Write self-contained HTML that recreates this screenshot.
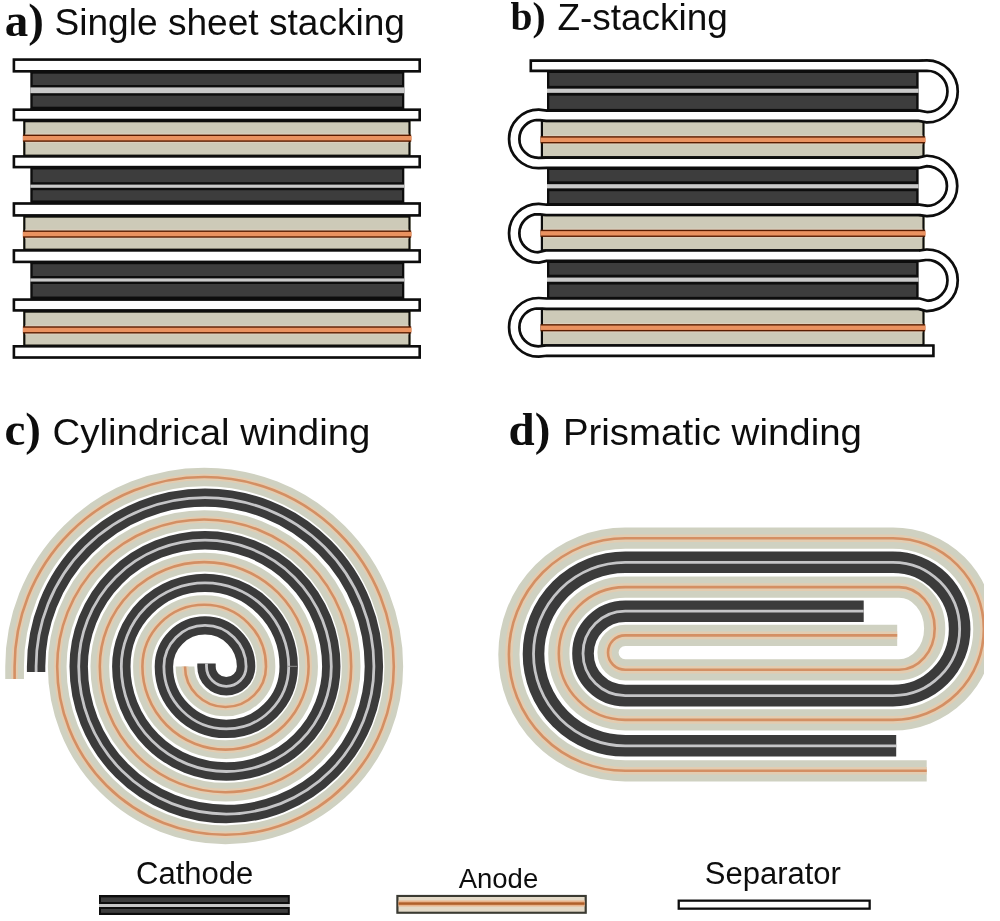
<!DOCTYPE html>
<html><head><meta charset="utf-8"><style>
html,body{margin:0;padding:0;background:#fff;overflow:hidden;}
svg{display:block;}
</style></head><body>
<svg width="1000" height="921" viewBox="0 0 1000 921">
<defs><filter id="bl" x="0" y="0" width="1" height="1"><feGaussianBlur stdDeviation="0.45"/></filter></defs>
<rect width="1000" height="921" fill="#ffffff"/>
<g filter="url(#bl)">
<rect x="30.30" y="71.60" width="374.00" height="37.80" fill="#0a0a0a"/>
<rect x="32.60" y="73.60" width="369.40" height="11.40" fill="#3d3d3d"/>
<rect x="32.60" y="95.60" width="369.40" height="11.10" fill="#3d3d3d"/>
<rect x="30.30" y="87.40" width="374.00" height="5.80" fill="#c9c9c9"/>
<rect x="23.20" y="120.30" width="387.40" height="35.80" fill="#111008"/>
<rect x="25.40" y="122.30" width="383.00" height="32.30" fill="#cdcab8"/>
<rect x="25.40" y="133.40" width="383.00" height="9.60" fill="#dccfbd"/>
<rect x="22.90" y="134.60" width="388.30" height="7.20" fill="#5a1e04"/>
<rect x="22.90" y="136.00" width="388.70" height="4.40" fill="#ea9260"/>
<rect x="30.30" y="167.40" width="374.00" height="35.80" fill="#0a0a0a"/>
<rect x="32.60" y="169.40" width="369.40" height="12.80" fill="#3d3d3d"/>
<rect x="32.60" y="190.20" width="369.40" height="10.30" fill="#3d3d3d"/>
<rect x="30.30" y="184.60" width="374.00" height="3.20" fill="#c9c9c9"/>
<rect x="23.20" y="215.70" width="387.40" height="34.40" fill="#111008"/>
<rect x="25.40" y="217.70" width="383.00" height="30.90" fill="#cdcab8"/>
<rect x="25.40" y="229.30" width="383.00" height="9.60" fill="#dccfbd"/>
<rect x="22.90" y="230.50" width="388.30" height="7.20" fill="#5a1e04"/>
<rect x="22.90" y="231.90" width="388.70" height="4.40" fill="#ea9260"/>
<rect x="30.30" y="262.20" width="374.00" height="37.10" fill="#0a0a0a"/>
<rect x="32.60" y="264.20" width="369.40" height="11.80" fill="#3d3d3d"/>
<rect x="32.60" y="284.00" width="369.40" height="12.60" fill="#3d3d3d"/>
<rect x="30.30" y="278.40" width="374.00" height="3.20" fill="#c9c9c9"/>
<rect x="23.20" y="310.70" width="387.40" height="35.30" fill="#111008"/>
<rect x="25.40" y="312.70" width="383.00" height="31.80" fill="#cdcab8"/>
<rect x="25.40" y="325.10" width="383.00" height="9.60" fill="#dccfbd"/>
<rect x="22.90" y="326.30" width="388.30" height="7.20" fill="#5a1e04"/>
<rect x="22.90" y="327.70" width="388.70" height="4.40" fill="#ea9260"/>
<rect x="12.60" y="58.30" width="408.40" height="14.30" fill="#080808"/>
<rect x="15.20" y="60.90" width="403.20" height="9.10" fill="#ffffff"/>
<rect x="12.60" y="108.40" width="408.40" height="12.90" fill="#080808"/>
<rect x="15.20" y="111.00" width="403.20" height="7.70" fill="#ffffff"/>
<rect x="12.60" y="155.10" width="408.40" height="13.30" fill="#080808"/>
<rect x="15.20" y="157.70" width="403.20" height="8.10" fill="#ffffff"/>
<rect x="12.60" y="202.20" width="408.40" height="14.50" fill="#080808"/>
<rect x="15.20" y="204.80" width="403.20" height="9.30" fill="#ffffff"/>
<rect x="12.60" y="249.10" width="408.40" height="14.10" fill="#080808"/>
<rect x="15.20" y="251.70" width="403.20" height="8.90" fill="#ffffff"/>
<rect x="12.60" y="298.30" width="408.40" height="13.40" fill="#080808"/>
<rect x="15.20" y="300.90" width="403.20" height="8.20" fill="#ffffff"/>
<rect x="12.60" y="345.00" width="408.40" height="13.80" fill="#080808"/>
<rect x="15.20" y="347.60" width="403.20" height="8.60" fill="#ffffff"/>
<rect x="547.00" y="70.20" width="371.60" height="41.10" fill="#0a0a0a"/>
<rect x="549.30" y="73.00" width="367.00" height="12.85" fill="#3d3d3d"/>
<rect x="549.30" y="95.65" width="367.00" height="13.25" fill="#3d3d3d"/>
<rect x="547.00" y="88.65" width="371.60" height="4.20" fill="#c9c9c9"/>
<rect x="540.80" y="120.10" width="383.80" height="38.20" fill="#111008"/>
<rect x="543.00" y="122.10" width="379.40" height="34.20" fill="#cdcab8"/>
<rect x="543.00" y="135.00" width="379.40" height="9.60" fill="#dccfbd"/>
<rect x="540.50" y="136.20" width="384.70" height="7.20" fill="#5a1e04"/>
<rect x="540.50" y="137.60" width="385.10" height="4.40" fill="#ea9260"/>
<rect x="547.00" y="167.10" width="371.60" height="38.35" fill="#0a0a0a"/>
<rect x="549.30" y="169.90" width="367.00" height="11.47" fill="#3d3d3d"/>
<rect x="549.30" y="191.17" width="367.00" height="11.88" fill="#3d3d3d"/>
<rect x="547.00" y="184.17" width="371.60" height="4.20" fill="#c9c9c9"/>
<rect x="540.80" y="214.25" width="383.80" height="37.00" fill="#111008"/>
<rect x="543.00" y="216.25" width="379.40" height="33.00" fill="#cdcab8"/>
<rect x="543.00" y="228.55" width="379.40" height="9.60" fill="#dccfbd"/>
<rect x="540.50" y="229.75" width="384.70" height="7.20" fill="#5a1e04"/>
<rect x="540.50" y="231.15" width="385.10" height="4.40" fill="#ea9260"/>
<rect x="547.00" y="260.05" width="371.60" height="39.20" fill="#0a0a0a"/>
<rect x="549.30" y="262.85" width="367.00" height="11.90" fill="#3d3d3d"/>
<rect x="549.30" y="284.55" width="367.00" height="12.30" fill="#3d3d3d"/>
<rect x="547.00" y="277.55" width="371.60" height="4.20" fill="#c9c9c9"/>
<rect x="540.80" y="308.05" width="383.80" height="38.20" fill="#111008"/>
<rect x="543.00" y="310.05" width="379.40" height="34.20" fill="#cdcab8"/>
<rect x="543.00" y="322.95" width="379.40" height="9.60" fill="#dccfbd"/>
<rect x="540.50" y="324.15" width="384.70" height="7.20" fill="#5a1e04"/>
<rect x="540.50" y="325.55" width="385.10" height="4.40" fill="#ea9260"/>
<path d="M529.50,65.80 L919.00,65.80 L927.00,65.60 A25.6,25.85 0 0 1 927.00,117.30 L919.00,115.70 L546.50,115.70 L538.50,114.80 A24.3,24.10 0 0 0 538.50,163.00 L546.50,162.70 L919.00,162.70 L927.00,160.90 A25.6,25.08 0 0 1 927.00,211.05 L919.00,209.85 L546.50,209.85 L538.50,208.95 A24.3,24.25 0 0 0 538.50,257.45 L546.50,255.65 L919.00,255.65 L927.00,254.65 A25.6,25.65 0 0 1 927.00,305.95 L919.00,303.65 L546.50,303.65 L538.50,303.15 A24.3,24.20 0 0 0 538.50,351.55 L546.50,350.65 L934.70,350.65" fill="none" stroke="#080808" stroke-width="13"/>
<path d="M532.10,65.80 L919.00,65.80 L927.00,65.60 A25.6,25.85 0 0 1 927.00,117.30 L919.00,115.70 L546.50,115.70 L538.50,114.80 A24.3,24.10 0 0 0 538.50,163.00 L546.50,162.70 L919.00,162.70 L927.00,160.90 A25.6,25.08 0 0 1 927.00,211.05 L919.00,209.85 L546.50,209.85 L538.50,208.95 A24.3,24.25 0 0 0 538.50,257.45 L546.50,255.65 L919.00,255.65 L927.00,254.65 A25.6,25.65 0 0 1 927.00,305.95 L919.00,303.65 L546.50,303.65 L538.50,303.15 A24.3,24.20 0 0 0 538.50,351.55 L546.50,350.65 L932.10,350.65" fill="none" stroke="#ffffff" stroke-width="7.6"/>
<path d="M185.00,666.50 L185.00,666.50 A40.50,40.50 0 0 0 266.00,666.50 A61.80,61.80 0 0 0 142.40,666.50 A83.10,83.10 0 0 0 308.60,666.50 A104.40,104.40 0 0 0 99.80,666.50 A125.70,125.70 0 0 0 351.20,666.50 A147.00,147.00 0 0 0 57.20,666.50 A168.30,168.30 0 0 0 393.80,666.50 A189.60,189.60 0 0 0 14.60,666.50 L14.60,679.00" fill="none" stroke="#cfd1c1" stroke-width="18.7"/>
<path d="M185.00,666.50 L185.00,666.50 A40.50,40.50 0 0 0 266.00,666.50 A61.80,61.80 0 0 0 142.40,666.50 A83.10,83.10 0 0 0 308.60,666.50 A104.40,104.40 0 0 0 99.80,666.50 A125.70,125.70 0 0 0 351.20,666.50 A147.00,147.00 0 0 0 57.20,666.50 A168.30,168.30 0 0 0 393.80,666.50 A189.60,189.60 0 0 0 14.60,666.50 L14.60,679.00" fill="none" stroke="#e3ccb0" stroke-width="6.73"/>
<path d="M185.00,666.50 L185.00,666.50 A40.50,40.50 0 0 0 266.00,666.50 A61.80,61.80 0 0 0 142.40,666.50 A83.10,83.10 0 0 0 308.60,666.50 A104.40,104.40 0 0 0 99.80,666.50 A125.70,125.70 0 0 0 351.20,666.50 A147.00,147.00 0 0 0 57.20,666.50 A168.30,168.30 0 0 0 393.80,666.50 A189.60,189.60 0 0 0 14.60,666.50 L14.60,679.00" fill="none" stroke="#d48f64" stroke-width="2.6"/>
<path d="M206.50,663.50 L206.50,666.50 A19.80,19.80 0 0 0 246.10,666.50 A41.10,41.10 0 0 0 163.90,666.50 A62.40,62.40 0 0 0 288.70,666.50 A83.70,83.70 0 0 0 121.30,666.50 A105.00,105.00 0 0 0 331.30,666.50 A126.30,126.30 0 0 0 78.70,666.50 A147.60,147.60 0 0 0 373.90,666.50 A168.90,168.90 0 0 0 36.10,666.50 L36.10,672.00" fill="none" stroke="#3a3a3a" stroke-width="18.4"/>
<path d="M206.50,663.50 L206.50,666.50 A19.80,19.80 0 0 0 246.10,666.50 A41.10,41.10 0 0 0 163.90,666.50 A62.40,62.40 0 0 0 288.70,666.50 A83.70,83.70 0 0 0 121.30,666.50 A105.00,105.00 0 0 0 331.30,666.50 A126.30,126.30 0 0 0 78.70,666.50 A147.60,147.60 0 0 0 373.90,666.50 A168.90,168.90 0 0 0 36.10,666.50 L36.10,672.00" fill="none" stroke="#c5c5c7" stroke-width="2.8"/>
<rect x="288.00" y="665.80" width="9.30" height="1.00" fill="#8c8c8c"/>
<path d="M897.20,635.40 L625.20,635.40 A17.20,17.20 0 0 0 625.20,669.80 L899.00,669.80 A35.70,41.35 0 0 0 899.00,587.10 L625.20,587.10 A66.40,66.40 0 0 0 625.20,719.90 L893.00,719.90 A90.85,90.85 0 0 0 893.00,538.20 L625.20,538.20 A116.30,116.30 0 0 0 625.20,770.80 L926.70,770.80" fill="none" stroke="#cfd1c1" stroke-width="21.2"/>
<path d="M897.20,635.40 L625.20,635.40 A17.20,17.20 0 0 0 625.20,669.80 L899.00,669.80 A35.70,41.35 0 0 0 899.00,587.10 L625.20,587.10 A66.40,66.40 0 0 0 625.20,719.90 L893.00,719.90 A90.85,90.85 0 0 0 893.00,538.20 L625.20,538.20 A116.30,116.30 0 0 0 625.20,770.80 L926.70,770.80" fill="none" stroke="#e3ccb0" stroke-width="7.63"/>
<path d="M897.20,635.40 L625.20,635.40 A17.20,17.20 0 0 0 625.20,669.80 L899.00,669.80 A35.70,41.35 0 0 0 899.00,587.10 L625.20,587.10 A66.40,66.40 0 0 0 625.20,719.90 L893.00,719.90 A90.85,90.85 0 0 0 893.00,538.20 L625.20,538.20 A116.30,116.30 0 0 0 625.20,770.80 L926.70,770.80" fill="none" stroke="#d48f64" stroke-width="2.6"/>
<path d="M863.70,611.20 L625.20,611.20 A42.20,42.20 0 0 0 625.20,695.60 L893.00,695.60 A66.65,66.65 0 0 0 893.00,562.30 L625.20,562.30 A91.75,91.75 0 0 0 625.20,745.80 L896.20,745.80" fill="none" stroke="#3a3a3a" stroke-width="21.6"/>
<path d="M863.70,611.20 L625.20,611.20 A42.20,42.20 0 0 0 625.20,695.60 L893.00,695.60 A66.65,66.65 0 0 0 893.00,562.30 L625.20,562.30 A91.75,91.75 0 0 0 625.20,745.80 L896.20,745.80" fill="none" stroke="#c5c5c7" stroke-width="2.8"/>
<rect x="99.00" y="895.00" width="190.80" height="9.20" fill="#111111"/>
<rect x="101.00" y="897.40" width="186.80" height="4.60" fill="#3d3d3d"/>
<rect x="99.00" y="904.20" width="190.80" height="2.80" fill="#c6c6c6"/>
<rect x="99.00" y="907.00" width="190.80" height="8.00" fill="#111111"/>
<rect x="101.00" y="909.00" width="186.80" height="3.80" fill="#3d3d3d"/>
<rect x="396.30" y="894.90" width="190.50" height="18.90" fill="#3a3a32"/>
<rect x="398.50" y="897.00" width="186.10" height="14.70" fill="#e4dac8"/>
<rect x="398.50" y="900.50" width="186.10" height="6.00" fill="#e9b48c"/>
<rect x="398.50" y="902.30" width="186.10" height="2.50" fill="#b0602c"/>
<rect x="677.60" y="899.50" width="193.20" height="10.30" fill="#111111"/>
<rect x="679.90" y="901.80" width="188.60" height="5.70" fill="#ffffff"/>
<g fill="#111">
<text x="4.7" y="35.6" font-family="'Liberation Serif', serif" font-weight="bold" font-size="47">a)</text>
<text x="54.5" y="35.3" font-family="'Liberation Sans', sans-serif" font-size="36" textLength="350.5" lengthAdjust="spacingAndGlyphs">Single sheet stacking</text>
<text x="510.5" y="29.5" font-family="'Liberation Serif', serif" font-weight="bold" font-size="39.5">b)</text>
<text x="557.4" y="29.5" font-family="'Liberation Sans', sans-serif" font-size="36" textLength="170.4" lengthAdjust="spacingAndGlyphs">Z-stacking</text>
<text x="4.4" y="445.4" font-family="'Liberation Serif', serif" font-weight="bold" font-size="47">c)</text>
<text x="52.6" y="445.2" font-family="'Liberation Sans', sans-serif" font-size="36" textLength="317.8" lengthAdjust="spacingAndGlyphs">Cylindrical winding</text>
<text x="508.5" y="445.4" font-family="'Liberation Serif', serif" font-weight="bold" font-size="47">d)</text>
<text x="562.9" y="445.2" font-family="'Liberation Sans', sans-serif" font-size="36" textLength="299.1" lengthAdjust="spacingAndGlyphs">Prismatic winding</text>
<text x="136" y="883.6" font-family="'Liberation Sans', sans-serif" font-size="31">Cathode</text>
<text x="458.7" y="887.5" font-family="'Liberation Sans', sans-serif" font-size="27.5">Anode</text>
<text x="704.8" y="883.5" font-family="'Liberation Sans', sans-serif" font-size="31">Separator</text>
</g>
</g>
</svg>
</body></html>
